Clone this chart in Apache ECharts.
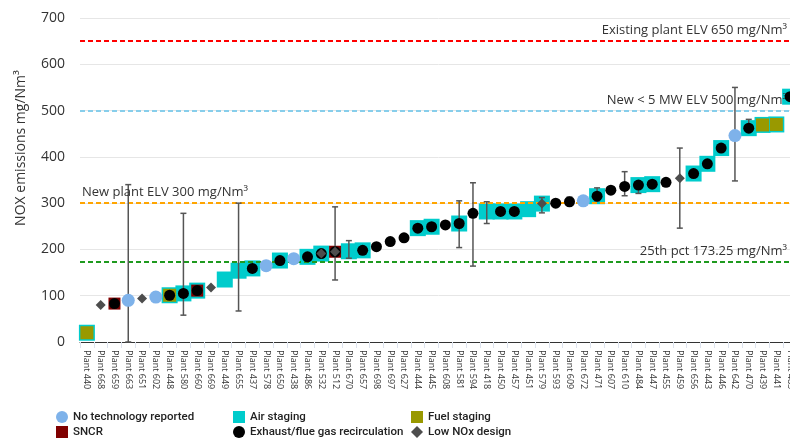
<!DOCTYPE html>
<html><head><meta charset="utf-8">
<script src="https://cdn.jsdelivr.net/npm/echarts@6/dist/echarts.min.js"></script>
<style>html,body{margin:0;padding:0;background:#fff;overflow:hidden}#c{width:797px;height:446px}</style>
</head><body><div id="c"></div>
<script>
const categories = ['Plant 440','Plant 668','Plant 659','Plant 663','Plant 651','Plant 602','Plant 448','Plant 580','Plant 660','Plant 669','Plant 449','Plant 655','Plant 437','Plant 578','Plant 650','Plant 438','Plant 486','Plant 532','Plant 512','Plant 670','Plant 657','Plant 698','Plant 697','Plant 627','Plant 444','Plant 445','Plant 608','Plant 581','Plant 594','Plant 418','Plant 450','Plant 457','Plant 451','Plant 579','Plant 593','Plant 609','Plant 672','Plant 471','Plant 607','Plant 610','Plant 484','Plant 447','Plant 455','Plant 459','Plant 656','Plant 443','Plant 446','Plant 642','Plant 470','Plant 439','Plant 441','Plant 485'];
const values = [20,80,83,90,94,97,101,105,111,118,135,154,159,165,176,180,184,191,195,196,198,206,217,225,246,249,253,256,278,282,282,282,287,299,300,303,305,315,328,336,339,341,345,354,364,385,419,446,462,469,470,530];
const noTech = ['Plant 663','Plant 602','Plant 578','Plant 438','Plant 672','Plant 642'];
const airStaging = ['Plant 440','Plant 448','Plant 580','Plant 660','Plant 449','Plant 655','Plant 437','Plant 650','Plant 486','Plant 532','Plant 670','Plant 657','Plant 444','Plant 445','Plant 581','Plant 418','Plant 450','Plant 457','Plant 451','Plant 579','Plant 471','Plant 484','Plant 447','Plant 656','Plant 443','Plant 446','Plant 470','Plant 439','Plant 441','Plant 485'];
const fuelStaging = ['Plant 440','Plant 448','Plant 439','Plant 441'];
const sncr = ['Plant 659','Plant 660','Plant 512'];
const exhaust = ['Plant 659','Plant 448','Plant 580','Plant 660','Plant 437','Plant 650','Plant 486','Plant 532','Plant 512','Plant 657','Plant 698','Plant 697','Plant 627','Plant 444','Plant 445','Plant 608','Plant 581','Plant 594','Plant 450','Plant 457','Plant 593','Plant 609','Plant 471','Plant 607','Plant 610','Plant 484','Plant 447','Plant 455','Plant 656','Plant 443','Plant 446','Plant 470','Plant 485'];
const lowNox = ['Plant 668','Plant 651','Plant 669','Plant 532','Plant 512','Plant 579','Plant 459'];
const errPlants = ['Plant 663','Plant 580','Plant 655','Plant 578','Plant 650','Plant 512','Plant 670','Plant 581','Plant 594','Plant 418','Plant 579','Plant 609','Plant 471','Plant 610','Plant 484','Plant 459','Plant 642','Plant 470'];
const errLow  = [0,58,67,163,171,134,181,204,164,256,279,295,305,316,321,246,348,455];
const errHigh = [340,278,300,167,180,292,219,305,344,303,312,313,333,368,345,419,550,481];
const refValues = [650,500,300,173.25];
const refLabels = ['Existing plant ELV 650 mg/Nm³','New < 5 MW ELV 500 mg/Nm³','New plant ELV 300 mg/Nm³','25th pct 173.25 mg/Nm³'];

const font = 'Open Sans';
function pick(list){ const s = new Set(list); return categories.map((c,i)=> s.has(c) ? values[i] : '-'); }
const errData = errPlants.map((p,k)=>[categories.indexOf(p), errLow[k], errHigh[k]]);

const chart = echarts.init(document.getElementById('c'));
const refColors = ['#ff0000','#87ceeb','#ffa500','#1f9a1f'];
const refPos = ['insideEndTop','insideEndTop','insideStartTop','insideEndTop'];
const legendStyle = {fontFamily:'Roboto, sans-serif', fontWeight:500, fontSize:11.5, color:'#222'};
function leg(left, items){ return {left:left,top:411,height:40,orient:'vertical',itemGap:3,itemWidth:12,itemHeight:12,padding:0,textStyle:legendStyle,data:items}; }
chart.setOption({
  animation:false,
  textStyle:{fontFamily:font},
  grid:{left:80,right:0,top:18,bottom:104},
  legend:[
    leg(56,['No technology reported','SNCR']),
    leg(233,['Air staging','Exhaust/flue gas recirculation']),
    leg(411,['Fuel staging','Low NOx design'])
  ],
  xAxis:{type:'category',data:categories,boundaryGap:true,
    axisLine:{lineStyle:{color:'#333',width:1}},
    axisTick:{show:true,interval:0,length:6,lineStyle:{color:'#dde3ee'}},
    axisLabel:{interval:0,rotate:-90,fontSize:9,color:'#333',margin:8,fontFamily:font}},
  yAxis:{type:'value',min:0,max:700,interval:100,
    axisLine:{show:false},axisTick:{show:false},
    splitLine:{lineStyle:{color:'#e6e6e6'}},
    axisLabel:{fontSize:14,color:'#333',margin:15,fontFamily:font}},
  graphic:[{type:'text',x:21,y:148,rotation:Math.PI/2,style:{text:'NOX emissions mg/Nm³',fontSize:14,fontFamily:font,fill:'#333',textAlign:'center',textVerticalAlign:'middle'}}],
  series:[
    {name:'Air staging',type:'scatter',symbol:'rect',symbolSize:16,itemStyle:{color:'#00cccc',opacity:1},z:2,data:pick(airStaging),
      markLine:{silent:true,symbol:'none',animation:false,
        data:refValues.map((v,k)=>({yAxis:v,lineStyle:{color:refColors[k],type:[5,3],width:2},
          label:{show:true,formatter:refLabels[k],position:refPos[k],distance:k===2?[2,4]:[10,4],fontSize:13,color:'#333',fontFamily:font}}))}},
    {name:'Fuel staging',type:'scatter',symbol:'rect',symbolSize:13,itemStyle:{color:'#999900',opacity:1},z:3,data:pick(fuelStaging)},
    {name:'SNCR',type:'scatter',symbol:'rect',symbolSize:12,itemStyle:{color:'#800000',opacity:1},z:4,data:pick(sncr)},
    {name:'err',type:'custom',z:5,data:errData,
      renderItem:function(params,api){
        const x = api.coord([api.value(0),api.value(1)]);
        const y2 = api.coord([api.value(0),api.value(2)]);
        const st = {stroke:'#555',lineWidth:1.5};
        return {type:'group',children:[
          {type:'line',shape:{x1:x[0],y1:x[1],x2:y2[0],y2:y2[1]},style:st},
          {type:'line',shape:{x1:x[0]-3,y1:x[1],x2:x[0]+3,y2:x[1]},style:st},
          {type:'line',shape:{x1:y2[0]-3,y1:y2[1],x2:y2[0]+3,y2:y2[1]},style:st}
        ]};
      }},
    {name:'No technology reported',type:'scatter',symbol:'circle',symbolSize:13,itemStyle:{color:'#7eb2ea',opacity:1},z:6,data:pick(noTech)},
    {name:'Exhaust/flue gas recirculation',type:'scatter',symbol:'circle',symbolSize:11,itemStyle:{color:'#000',opacity:1},z:6,data:pick(exhaust)},
    {name:'Low NOx design',type:'scatter',symbol:'diamond',symbolSize:10,itemStyle:{color:'#4d4d4d',opacity:1},z:7,data:pick(lowNox)}
  ]
});
</script></body></html>
